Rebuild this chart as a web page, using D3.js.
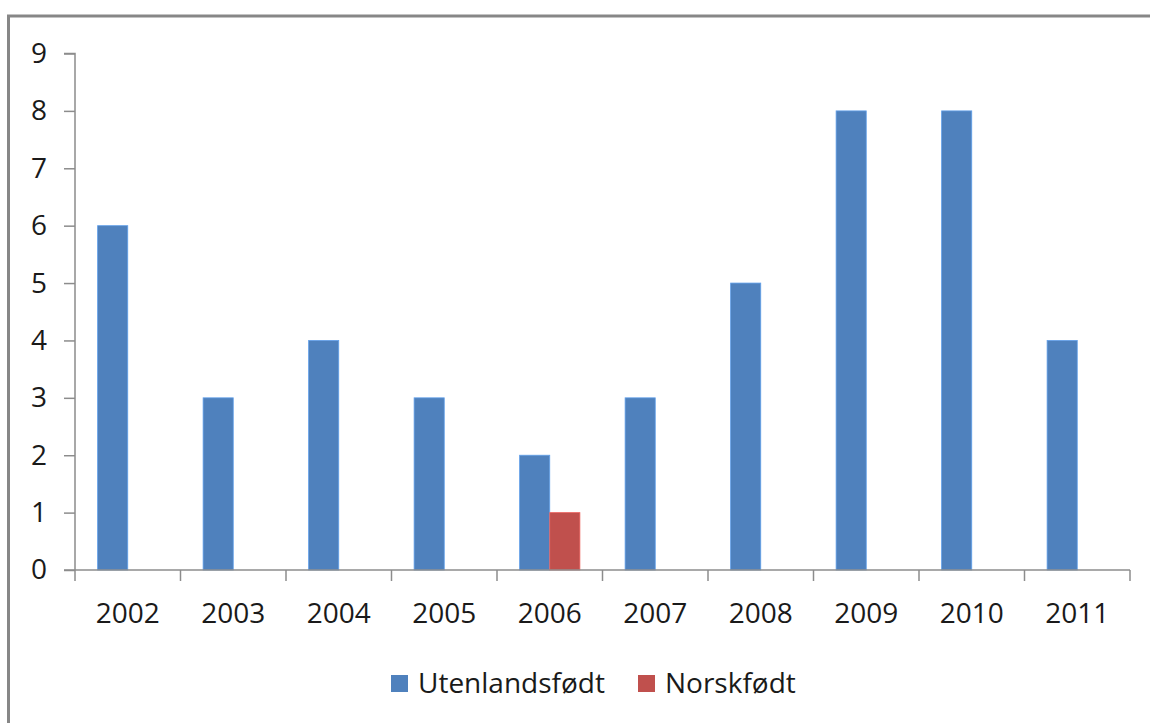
<!DOCTYPE html>
<html>
<head>
<meta charset="utf-8">
<script src="https://cdn.jsdelivr.net/npm/d3@7/dist/d3.min.js"></script>
<style>
  html, body { margin: 0; padding: 0; background: #fff; }
  svg { display: block; }
  text { font-family: "Open Sans", "Liberation Sans", sans-serif; fill: #1a1a1a; }
</style>
</head>
<body>
<svg id="chart" width="1150" height="723"></svg>
<script>
// Data
const years = ["2002", "2003", "2004", "2005", "2006", "2007", "2008", "2009", "2010", "2011"];
const utenlandsfodt = [6, 3, 4, 3, 2, 3, 5, 8, 8, 4];
const norskfodt = [0, 0, 0, 0, 1, 0, 0, 0, 0, 0];
const seriesNames = ["Utenlandsfødt", "Norskfødt"];
const seriesColors = ["#4F81BD", "#C0504D"];
const yTicks = [0, 1, 2, 3, 4, 5, 6, 7, 8, 9];

const svg = d3.select("#chart");

// Outer chart frame
svg.append("rect")
  .attr("x", 8.5).attr("y", 16)
  .attr("width", 1160).attr("height", 720)
  .attr("fill", "#fff")
  .attr("stroke", "#878787")
  .attr("stroke-width", 3);

const plot = { left: 75, right: 1130, top: 53.5, bottom: 570 };

const x = d3.scaleBand().domain(years).range([plot.left, plot.right]).padding(0);
const seriesList = seriesNames.map((name, i) => ({
  name, color: seriesColors[i], values: i === 0 ? utenlandsfodt : norskfodt
}));
// Excel-style gap width 150%: two bars share 2 / 3.5 of each category
const barW = x.bandwidth() / 3.5;
const xs = d3.scaleBand().domain(seriesNames)
  .range([barW * 0.75, barW * 0.75 + 2 * barW]);
const y = d3.scaleLinear().domain([0, 9]).range([plot.bottom, plot.top]);

// Bars
seriesList.forEach(s => {
  svg.append("g")
    .selectAll("rect")
    .data(years.map((yr, i) => ({ yr, v: s.values[i] })).filter(d => d.v > 0))
    .join("rect")
    .attr("x", d => x(d.yr) + xs(s.name))
    .attr("y", d => y(d.v))
    .attr("width", xs.bandwidth())
    .attr("height", d => y(0) - y(d.v))
    .attr("fill", s.color)
    .attr("stroke", d3.color(s.color).brighter(0.6))
    .attr("stroke-width", 0.8);
});

// Y axis
const yAxis = d3.axisLeft(y).tickValues(yTicks).tickSize(11).tickPadding(17)
  .tickFormat(d3.format("d"));
const gy = svg.append("g").attr("transform", `translate(${plot.left},0)`).call(yAxis);
gy.selectAll("path, line").attr("stroke", "#8c8c8c").attr("stroke-width", 1.5);
gy.select(".domain").attr("d", `M-11,${plot.top}H0V${plot.bottom}`);
gy.selectAll("text").attr("font-size", 28).attr("font-family", null).attr("fill", "#111");

// X axis with tick marks on category boundaries
const gx = svg.append("g").attr("transform", `translate(0,${plot.bottom})`);
gx.append("line")
  .attr("x1", plot.left - 11).attr("x2", plot.right)
  .attr("stroke", "#8c8c8c").attr("stroke-width", 1.5);
const boundaries = years.map(d => x(d)).concat([plot.right]);
gx.selectAll(".tick-mark").data(boundaries).join("line")
  .attr("class", "tick-mark")
  .attr("x1", d => d).attr("x2", d => d)
  .attr("y1", 0).attr("y2", 11)
  .attr("stroke", "#8c8c8c").attr("stroke-width", 1.5);
gx.selectAll(".tick-label").data(years).join("text")
  .attr("class", "tick-label")
  .attr("x", d => x(d) + x.bandwidth() / 2)
  .attr("y", 53)
  .attr("text-anchor", "middle")
  .attr("font-size", 28)
  .attr("fill", "#111")
  .text(d => d);

// Legend
const legend = svg.append("g").attr("transform", "translate(391,675)");
const legendX = [0, 247];
seriesList.forEach((s, i) => {
  const g = legend.append("g").attr("transform", `translate(${legendX[i]},0)`);
  g.append("rect").attr("width", 17).attr("height", 17).attr("fill", s.color);
  g.append("text").attr("x", 27).attr("y", 18).attr("font-size", 28)
    .attr("fill", "#111").text(s.name);
});
</script>
</body>
</html>
